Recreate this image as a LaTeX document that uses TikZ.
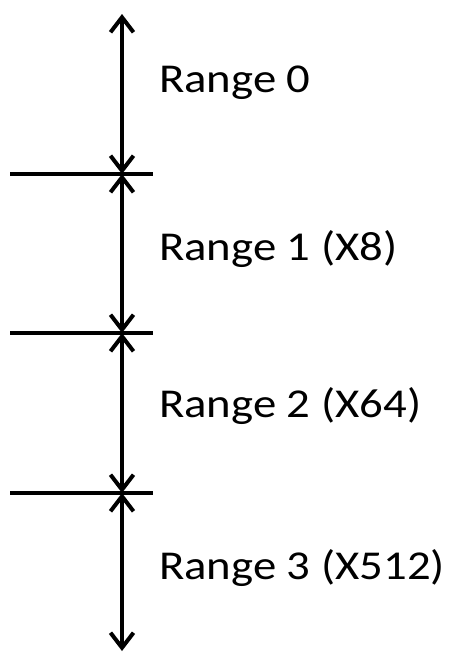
\documentclass[tikz,border=0pt]{standalone}
\usepackage{fontspec}
\setmainfont{Carlito}
\newfontfamily\lblfont[FakeStretch=1.14]{Carlito}
\usetikzlibrary{arrows.meta}
\begin{document}
\begin{tikzpicture}[x=1pt,y=-1pt,
  rng/.style={line width=4pt,{Straight Barb[length=15pt,width=23pt]}-{Straight Barb[length=15pt,width=23pt]}},
  sep/.style={line width=4pt},
  lbl/.style={anchor=base west,inner sep=0pt,font=\lblfont\fontsize{41pt}{48pt}\selectfont}]
\useasboundingbox (0,0) rectangle (452,653);
\coordinate (p0) at (122,14);
\coordinate (p1) at (122,174);
\coordinate (p2) at (122,333);
\coordinate (p3) at (122,493);
\coordinate (p4) at (122,651);
\coordinate (l1) at (10,174);
\coordinate (r1) at (153,174);
\coordinate (l2) at (10,333);
\coordinate (r2) at (153,333);
\coordinate (l3) at (10,493);
\coordinate (r3) at (153,493);
\draw[sep] (l1) -- (r1);
\draw[sep] (l2) -- (r2);
\draw[sep] (l3) -- (r3);
\draw[rng] (p0) -- (p1);
\draw[rng] (p1) -- (p2);
\draw[rng] (p2) -- (p3);
\draw[rng] (p3) -- (p4);
\node[lbl] (t0) at (159,92) {Range 0};
\node[lbl] (t1) at (159,260) {Range 1 (X8)};
\node[lbl] (t2) at (159,417) {Range 2 (X64)};
\node[lbl] (t3) at (159,579) {Range 3 (X512)};
\end{tikzpicture}
\end{document}
